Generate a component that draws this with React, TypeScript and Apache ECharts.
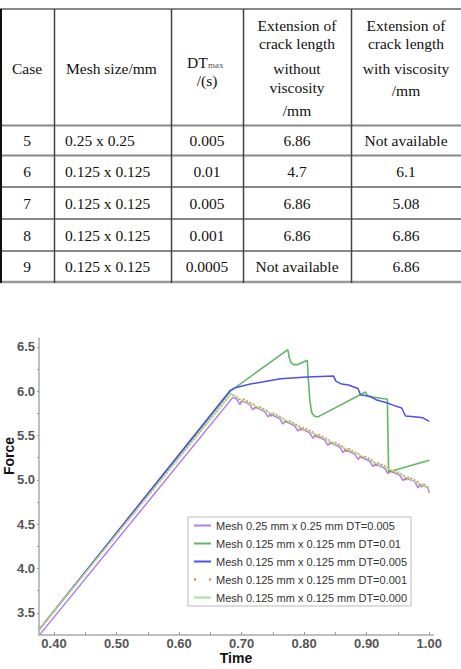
import React, { useEffect, useRef } from "react";
import * as echarts from "echarts";

// ---------- table data ----------
const tableRows: string[][] = [
  ["5", "0.25 x 0.25", "0.005", "6.86", "Not available"],
  ["6", "0.125 x 0.125", "0.01", "4.7", "6.1"],
  ["7", "0.125 x 0.125", "0.005", "6.86", "5.08"],
  ["8", "0.125 x 0.125", "0.001", "6.86", "6.86"],
  ["9", "0.125 x 0.125", "0.0005", "Not available", "6.86"],
];
const headerCol4 = ["Extension of", "crack length", "without", "viscosity", "/mm"];
const headerCol5 = ["Extension of", "crack length", "with viscosity", "/mm"];

// ---------- chart data ----------
const seriesNames = [
  "Mesh 0.25 mm x 0.25 mm DT=0.005",
  "Mesh 0.125 mm x 0.125 mm DT=0.01",
  "Mesh 0.125 mm x 0.125 mm DT=0.005",
  "Mesh 0.125 mm x 0.125 mm DT=0.001",
  "Mesh 0.125 mm x 0.125 mm DT=0.000",
];

const purpleData = [
  [0.378, 3.26], [0.686, 5.93], [0.692, 5.91], [0.697, 5.85], [0.701, 5.89],
  [0.713, 5.85], [0.718, 5.79], [0.722, 5.82], [0.737, 5.77], [0.742, 5.71],
  [0.746, 5.74], [0.761, 5.69], [0.766, 5.63], [0.770, 5.66], [0.785, 5.61],
  [0.790, 5.55], [0.794, 5.58], [0.809, 5.53], [0.814, 5.47], [0.818, 5.50],
  [0.833, 5.45], [0.838, 5.39], [0.842, 5.42], [0.857, 5.37], [0.862, 5.31],
  [0.866, 5.34], [0.881, 5.29], [0.886, 5.23], [0.890, 5.26], [0.905, 5.21],
  [0.910, 5.15], [0.914, 5.18], [0.929, 5.13], [0.934, 5.07], [0.938, 5.10],
  [0.953, 5.05], [0.958, 4.99], [0.962, 5.02], [0.977, 4.98], [0.982, 4.91],
  [0.986, 4.95], [0.998, 4.91], [1.000, 4.85],
];

const greenData = [
  [0.376, 3.31], [0.682, 6.0], [0.774, 6.47], [0.776, 6.38], [0.779, 6.32],
  [0.783, 6.30], [0.790, 6.30], [0.805, 6.35], [0.806, 6.20], [0.809, 5.90],
  [0.812, 5.76], [0.816, 5.72], [0.822, 5.71], [0.898, 5.99], [0.901, 5.95],
  [0.904, 5.94], [0.933, 5.91], [0.935, 5.09], [0.946, 5.11], [1.0, 5.22],
];

const blueData = [
  [0.376, 3.31], [0.682, 6.01], [0.690, 6.04], [0.714, 6.08], [0.762, 6.14],
  [0.805, 6.16], [0.847, 6.17], [0.851, 6.11], [0.860, 6.08], [0.871, 6.07],
  [0.878, 6.05], [0.886, 6.03], [0.890, 5.96], [0.906, 5.94], [0.916, 5.90],
  [0.932, 5.87], [0.943, 5.84], [0.956, 5.81], [0.962, 5.72], [0.980, 5.71],
  [0.990, 5.70], [1.0, 5.66],
];

const orangeData = [
  [0.376, 3.31], [0.683, 5.97], [0.695, 5.92], [0.699, 5.88], [0.703, 5.91],
  [0.719, 5.85], [0.723, 5.80], [0.727, 5.83], [0.743, 5.77], [0.747, 5.72],
  [0.751, 5.75], [0.767, 5.69], [0.771, 5.64], [0.775, 5.67], [0.791, 5.61],
  [0.795, 5.56], [0.799, 5.59], [0.815, 5.53], [0.819, 5.48], [0.823, 5.51],
  [0.839, 5.45], [0.843, 5.40], [0.847, 5.43], [0.863, 5.37], [0.867, 5.32],
  [0.871, 5.35], [0.887, 5.29], [0.891, 5.24], [0.895, 5.27], [0.911, 5.21],
  [0.915, 5.16], [0.919, 5.19], [0.935, 5.13], [0.939, 5.08], [0.943, 5.11],
  [0.959, 5.05], [0.963, 5.00], [0.967, 5.03], [0.983, 4.97], [0.987, 4.92],
  [0.991, 4.95], [1.0, 4.91],
];

const lightGreenData = [
  [0.376, 3.31], [0.683, 5.97], [0.70, 5.90], [0.72, 5.84], [0.74, 5.77],
  [0.76, 5.71], [0.78, 5.64], [0.80, 5.57], [0.82, 5.51], [0.84, 5.44],
  [0.86, 5.37], [0.88, 5.31], [0.90, 5.24], [0.92, 5.17], [0.94, 5.11],
  [0.96, 5.04], [0.98, 4.97], [1.0, 4.91],
];

const xLabelValues = [0.4, 0.5, 0.6, 0.7, 0.8, 0.9, 1.0];
const xTickValues = [0.4, 0.45, 0.5, 0.55, 0.6, 0.65, 0.7, 0.75, 0.8, 0.85, 0.9, 0.95, 1.0];
const yLabelValues = [3.5, 4.0, 4.5, 5.0, 5.5, 6.0, 6.5];
const yTickValues = [3.5, 3.75, 4.0, 4.25, 4.5, 4.75, 5.0, 5.25, 5.5, 5.75, 6.0, 6.25, 6.5];

const SERIF = "'Liberation Serif', 'Times New Roman', serif";
const SANS = "'Liberation Sans', Arial, sans-serif";

function txt(text: string, x: number, y: number, align: string, size = 15.5, fill = "#111", extra: any = {}) {
  return {
    type: "text",
    x,
    y,
    silent: true,
    style: {
      text,
      fill,
      font: `${size}px ${SERIF}`,
      textAlign: align,
      textVerticalAlign: "middle",
      align,
      verticalAlign: "middle",
      ...extra,
    },
  };
}

function ln(x1: number, y1: number, x2: number, y2: number, stroke: string, lineWidth: number) {
  return { type: "line", silent: true, shape: { x1, y1, x2, y2 }, style: { stroke, lineWidth } };
}

export default function App() {
  const ref = useRef<HTMLDivElement>(null);

  useEffect(() => {
    if (!ref.current) return;
    const chart = echarts.init(ref.current, undefined, { renderer: "svg" });

    const rowCenters = [140, 171, 203, 235, 266.5];
    const colX = [27, 65, 207, 297, 406];
    const colAlign = ["center", "left", "center", "center", "center"];
    const col4Y = [25, 43, 68, 87, 110];
    const col5Y = [25, 43, 68, 90];

    const graphics: any[] = [];
    // table lines
    graphics.push(ln(0, 9, 461, 9, "#888", 2));
    graphics.push(ln(0, 125.5, 461, 125.5, "#888", 2));
    [155.5, 187, 219, 251].forEach((y) => graphics.push(ln(0, y, 461, y, "#888", 1.8)));
    graphics.push(ln(0, 282, 461, 282, "#999", 2.5));
    graphics.push(ln(1, 9, 1, 283, "#111", 2));
    [54.5, 171.5, 243.5, 351.5].forEach((x) => graphics.push(ln(x, 9, x, 283, "#444", 1.5)));

    // header
    graphics.push(txt("Case", 27, 68, "center"));
    graphics.push(txt("Mesh size/mm", 66, 68, "left"));
    graphics.push(txt("DT", 187, 62, "left"));
    graphics.push(txt("max", 208, 65, "left", 9, "#555"));
    graphics.push(txt("/(s)", 207, 80, "center"));
    headerCol4.forEach((t, i) => graphics.push(txt(t, 297, col4Y[i], "center")));
    headerCol5.forEach((t, i) => graphics.push(txt(t, 406, col5Y[i], "center")));
    tableRows.forEach((row, r) => {
      row.forEach((cell, c) => {
        graphics.push(txt(cell, colX[c], rowCenters[r], colAlign[c]));
      });
    });

    // y axis title
    graphics.push({
      type: "text",
      x: 9,
      y: 456,
      rotation: Math.PI / 2,
      silent: true,
      style: {
        text: "Force",
        fill: "#111",
        font: `bold 14px ${SANS}`,
        textAlign: "center",
        textVerticalAlign: "middle",
        align: "center",
        verticalAlign: "middle",
      },
    });

    const colors = ["#b07ee8", "#62b862", "#4f4ff0", "#e8743c", "#a8e2a0"];
    const datas = [purpleData, greenData, blueData, orangeData, lightGreenData];
    const widths = [1.5, 1.6, 1.5, 1.8, 1.2];
    const types = ["solid", "solid", "solid", "dotted", "solid"];

    chart.setOption({
      animation: false,
      backgroundColor: "#fff",
      grid: { left: 39, right: 28, top: 338, bottom: 34, containLabel: false },
      legend: {
        orient: "vertical",
        left: 188,
        top: 517,
        padding: [3, 4, 3, 5],
        itemWidth: 17,
        itemHeight: 10,
        itemGap: 7,
        backgroundColor: "#fff",
        borderColor: "#bbb",
        borderWidth: 1,
        itemStyle: { color: "rgba(0,0,0,0)", borderWidth: 0, borderColor: "rgba(0,0,0,0)" },
        textStyle: { fontFamily: SANS, fontSize: 11, color: "#333" },
        data: seriesNames.map((name, i) =>
          i === 3
            ? { name, lineStyle: { type: [2, 13], width: 2, dashOffset: 0 } }
            : { name }
        ),
      },
      xAxis: {
        type: "value",
        min: 0.376,
        max: 1.006,
        name: "Time",
        nameLocation: "middle",
        nameGap: 13,
        nameTextStyle: { fontFamily: SANS, fontWeight: "bold", fontSize: 14, color: "#111" },
        axisLine: { show: true, lineStyle: { color: "#aaa", width: 1.5 } },
        axisTick: { show: true, inside: true, length: 3, lineStyle: { color: "#999" }, customValues: xTickValues },
        axisLabel: {
          customValues: xLabelValues,
          margin: 2,
          fontFamily: SANS,
          fontWeight: "bold",
          fontSize: 13,
          color: "#555",
          formatter: (v: number) => v.toFixed(2),
        },
        splitLine: { show: false },
      },
      yAxis: {
        type: "value",
        min: 3.25,
        max: 6.6,
        axisLine: { show: true, lineStyle: { color: "#aaa", width: 1.5 } },
        axisTick: { show: true, inside: false, length: 2, lineStyle: { color: "#999" }, customValues: yTickValues },
        axisLabel: {
          customValues: yLabelValues,
          margin: 4,
          fontFamily: SANS,
          fontWeight: "bold",
          fontSize: 13,
          color: "#555",
          formatter: (v: number) => v.toFixed(1),
        },
        splitLine: { show: false },
      },
      series: seriesNames.map((name, i) => ({
        name,
        type: "line",
        data: datas[i],
        showSymbol: false,
        symbol: "none",
        z: 2 + i,
        itemStyle: { color: colors[i] },
        lineStyle: { color: colors[i], width: widths[i], type: types[i] },
      })),
      graphic: graphics,
    });

    return () => chart.dispose();
  }, []);

  return (
    <div
      ref={ref}
      style={{ position: "absolute", left: 0, top: 0, width: 461, height: 669 }}
    />
  );
}
